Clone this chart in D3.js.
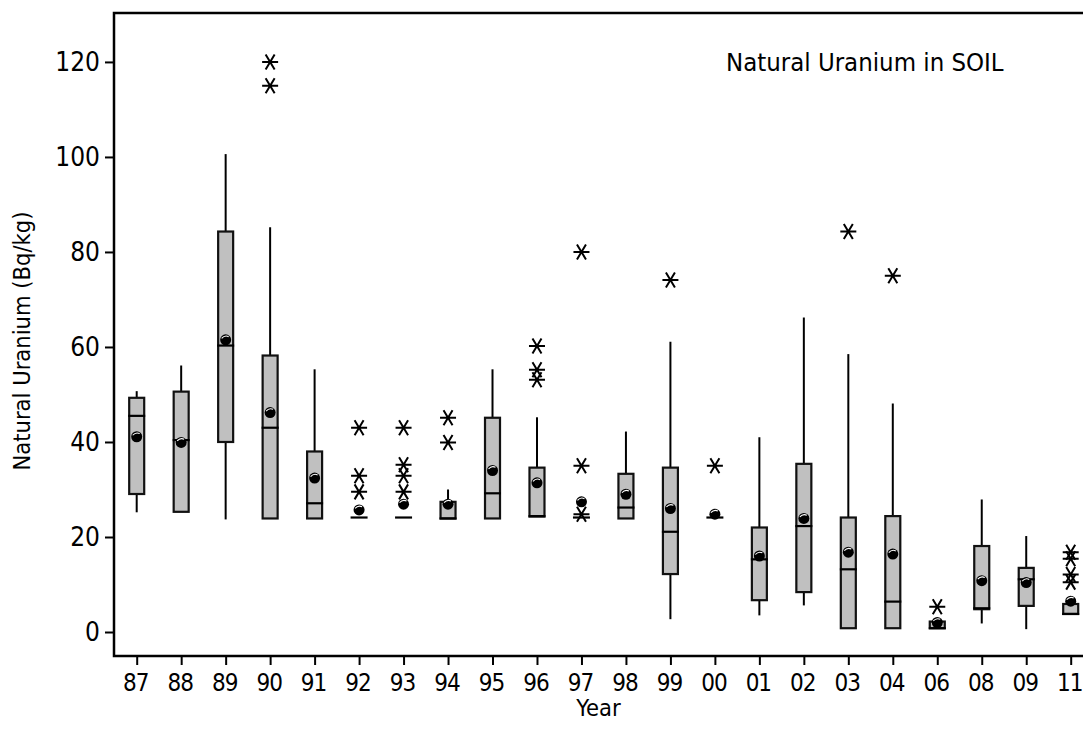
<!DOCTYPE html>
<html><head><meta charset="utf-8">
<script src="https://cdn.jsdelivr.net/npm/d3@7"></script>
<style>
body{margin:0;background:#fff;}
svg{display:block;}
text{font-family:"DejaVu Sans Condensed","DejaVu Sans",sans-serif;fill:#000;}
</style></head>
<body><svg id="c" width="1083" height="729"></svg>
<script>
const years = ["87","88","89","90","91","92","93","94","95","96","97","98","99","00","01","02","03","04","06","08","09","11"];
const q1     = [29.05,25.3,40.0,23.9,23.9,24.1,24.1,23.9,23.9,24.3,24.1,23.9,12.2,24.1, 6.7, 8.4, 0.8, 0.8,0.8, 4.8, 5.5,3.8];
const median = [45.5, 40.4,60.3,43.0,27.1,24.1,24.1,23.9,29.2,24.4,24.1,26.2,21.1,24.1,15.3,22.3,13.2, 6.4,0.8, 5.0,11.1,3.8];
const q3     = [49.3, 50.6,84.3,58.2,38.0,24.1,24.1,27.4,45.1,34.6,24.1,33.3,34.6,24.1,22.0,35.4,24.1,24.4,2.2,18.1,13.5,5.9];
const whiskerLow  = [25.2,25.3,23.7,23.9,23.9,24.1,24.1,23.9,23.9,24.3,24.1,23.9, 2.7,24.1, 3.5, 5.6, 0.8, 0.8,0.8, 1.8, 0.6,3.8];
const whiskerHigh = [50.7,56.1,100.6,85.2,55.3,24.1,24.1,30.0,55.3,45.2,24.1,42.2,61.1,24.1,41.0,66.2,58.5,48.1,2.2,27.9,20.2,5.9];
const means  = [41.1,39.9,61.5,46.2,32.4,25.7,26.9,26.9,34.0,31.4,27.4,29.0,26.0,24.8,16.0,23.9,16.8,16.4,2.0,10.8,10.4,6.5];
const outliers = [[],[],[],[120,115],[],[43.0,32.9,29.5],[43.0,35.2,32.9,29.5],[45.1,39.9],[],[60.2,55.2,53.1],[80.0,35.0,24.8],[],[74.1],[35.0],[],[],[84.3],[75.0],[5.3],[],[],[16.8,15.4,12.1,10.5]];
const yTicks = [0,20,40,60,80,100,120];
const chartTitle = "Natural Uranium in SOIL";
const xTitle = "Year";
const yTitle = "Natural Uranium (Bq/kg)";

const svg = d3.select("#c");
const L = 114, R = 1083, T = 13, B = 656;
const x = d3.scalePoint().domain(years).range([136.7, 1070.7]);
const y = d3.scaleLinear().domain([-5.05, 130.3]).range([B, T]);
const bw = 15;

const rows = years.map((yr,i)=>({yr,q1:q1[i],med:median[i],q3:q3[i],lo:whiskerLow[i],hi:whiskerHigh[i],mean:means[i],out:outliers[i]}));

const g = svg.append("g");
g.selectAll(".wu").data(rows).join("line")
  .attr("x1",d=>x(d.yr)).attr("x2",d=>x(d.yr)).attr("y1",d=>y(d.q3)).attr("y2",d=>y(d.hi))
  .attr("stroke","#000").attr("stroke-width",2);
g.selectAll(".wl").data(rows).join("line")
  .attr("x1",d=>x(d.yr)).attr("x2",d=>x(d.yr)).attr("y1",d=>y(d.q1)).attr("y2",d=>y(d.lo))
  .attr("stroke","#000").attr("stroke-width",2);
g.selectAll(".box").data(rows).join("rect")
  .attr("x",d=>x(d.yr)-bw/2).attr("width",bw)
  .attr("y",d=>y(d.q3)).attr("height",d=>Math.max(0,y(d.q1)-y(d.q3)))
  .attr("fill","#c0c0c0").attr("stroke","#111").attr("stroke-width",2.2);
g.selectAll(".med").data(rows).join("line")
  .attr("x1",d=>x(d.yr)-bw/2-1).attr("x2",d=>x(d.yr)+bw/2+1)
  .attr("y1",d=>y(d.med)).attr("y2",d=>y(d.med))
  .attr("stroke","#000").attr("stroke-width",2.2);
const outPts = rows.flatMap(d=>d.out.map(v=>({yr:d.yr,v})));
const star = "M-8,0H8M-4.5,-7.5L4.5,7.5M4.5,-7.5L-4.5,7.5";
g.selectAll(".out").data(outPts).join("path")
  .attr("transform",d=>`translate(${x(d.yr)},${y(d.v)})`)
  .attr("d",star).attr("fill","none").attr("stroke","#000").attr("stroke-width",2);
const mg = g.selectAll(".mean").data(rows).join("g")
  .attr("transform",d=>`translate(${x(d.yr)},${y(d.mean)})`);
mg.append("circle").attr("r",5.5).attr("fill","#000");
mg.append("path").attr("d","M-4,-1.5Q-1,-5 3,-3.2").attr("fill","none").attr("stroke","#fff").attr("stroke-width",1.1);

const ya = svg.append("g").attr("transform",`translate(${L},0)`)
  .call(d3.axisLeft(y).tickValues(yTicks).tickSize(9).tickPadding(5));
ya.select(".domain").remove();
ya.selectAll("line").attr("stroke","#000").attr("stroke-width",2);
ya.selectAll("text").style("font-size","26px");
const xa = svg.append("g").attr("transform",`translate(0,${B})`)
  .call(d3.axisBottom(x).tickSize(9).tickPadding(9));
xa.select(".domain").remove();
xa.selectAll("line").attr("stroke","#000").attr("stroke-width",2);
xa.selectAll("text").style("font-size","24px").style("letter-spacing","-1px").attr("dx","-1.5");
svg.append("path").attr("d",`M${R},${T}H${L}V${B}H${R}`).attr("fill","none").attr("stroke","#000").attr("stroke-width",2.5);

svg.append("text").attr("x",726).attr("y",71).style("font-size","25.5px").text(chartTitle);
svg.append("text").attr("x",(L+R)/2).attr("y",716).attr("text-anchor","middle").style("font-size","23.5px").text(xTitle);
svg.append("text").attr("transform",`translate(30,341) rotate(-90)`).attr("text-anchor","middle").style("font-size","23.5px").text(yTitle);
</script></body></html>
